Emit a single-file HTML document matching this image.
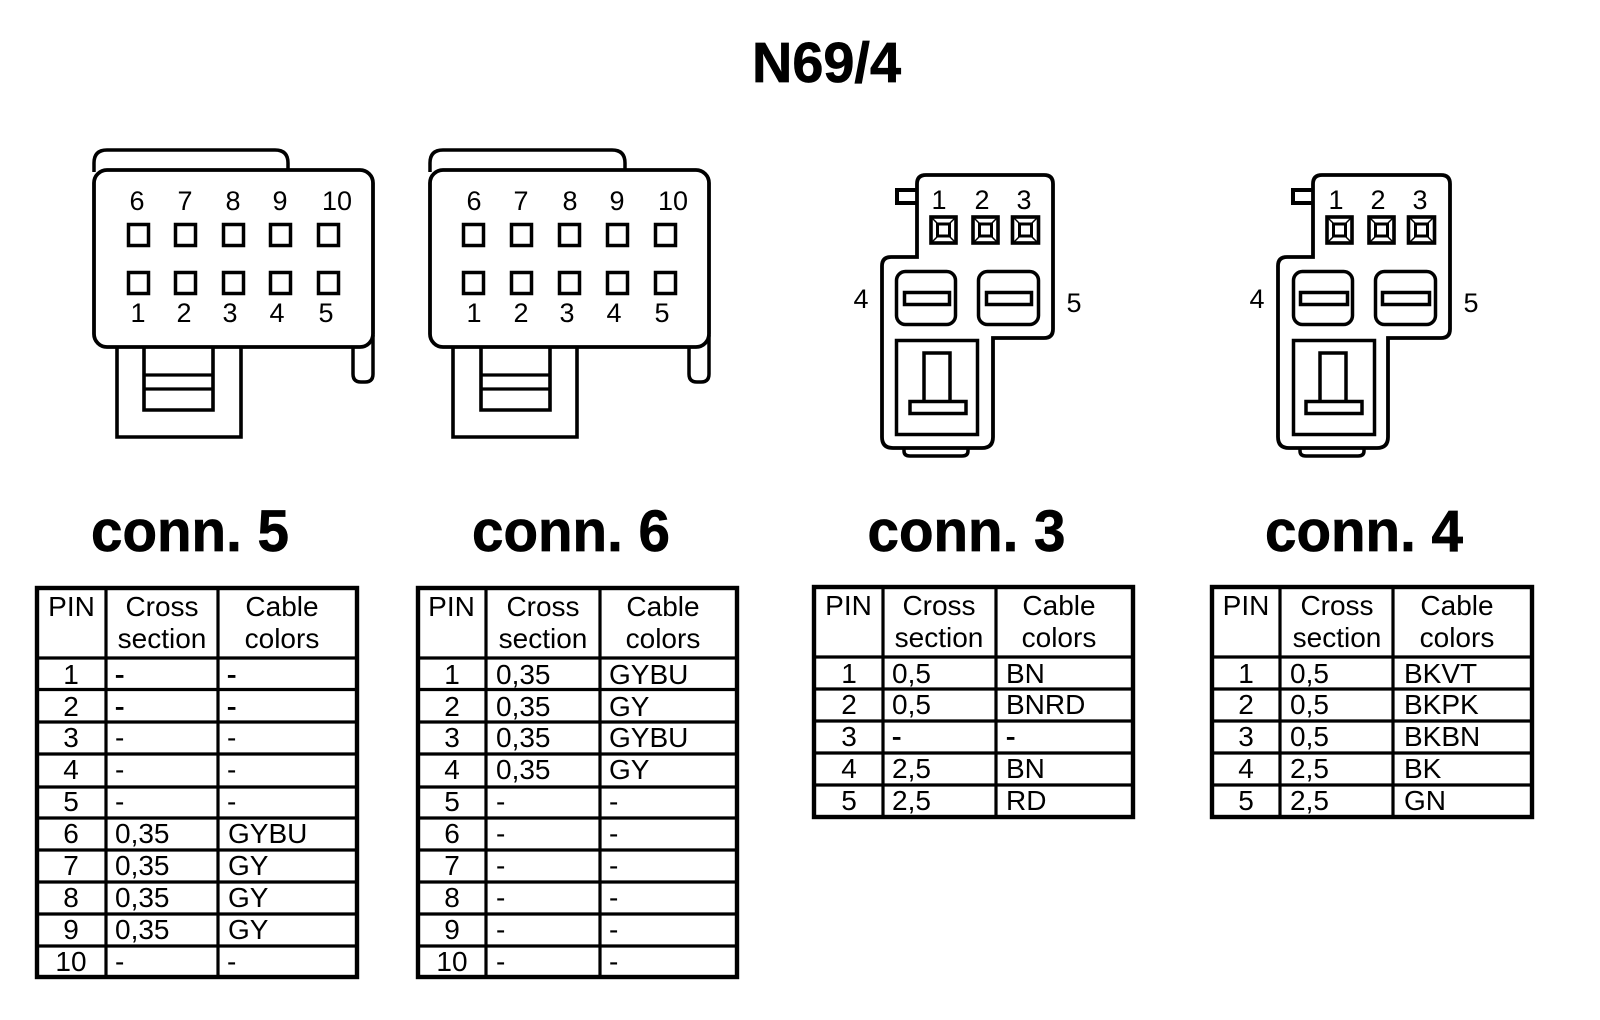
<!DOCTYPE html>
<html lang="en">
<head>
<meta charset="utf-8">
<title>N69/4</title>
<style>
html,body{margin:0;padding:0;background:#fff;width:1600px;height:1020px;overflow:hidden}
svg{display:block}
text{font-family:"Liberation Sans",Arial,sans-serif;fill:#000}
.t{font-size:28px}
.m{text-anchor:middle}
.n{font-size:27px;text-anchor:middle}
.d{stroke:#000;stroke-width:.7px}
.h{font-weight:bold;stroke:#000;stroke-width:.7px}
.s{fill:none;stroke:#000;stroke-width:3.5}
.w{fill:#fff;stroke:#000;stroke-width:3.5}
.l{stroke:#000;stroke-width:3.2;fill:none}
.o{fill:none;stroke:#000;stroke-width:4.4}
.f{stroke:#000;stroke-width:1.5}
</style>
</head>
<body>
<svg xmlns="http://www.w3.org/2000/svg" width="1600" height="1020" viewBox="0 0 1600 1020">
<rect width="1600" height="1020" fill="#fff"/>

<text class="h" x="752" y="82" font-size="57" textLength="149" lengthAdjust="spacingAndGlyphs">N69/4</text>
<text class="h" x="91" y="551" font-size="58" textLength="198" lengthAdjust="spacingAndGlyphs">conn. 5</text>
<text class="h" x="472" y="551" font-size="58" textLength="198" lengthAdjust="spacingAndGlyphs">conn. 6</text>
<text class="h" x="867.500" y="551" font-size="58" textLength="198" lengthAdjust="spacingAndGlyphs">conn. 3</text>
<text class="h" x="1265" y="551" font-size="58" textLength="198" lengthAdjust="spacingAndGlyphs">conn. 4</text>

<!-- Connector 5 -->
<path class="s" d="M94 172V163Q94 150 107 150H275Q288 150 288 163V170"/>
<path class="s" d="M353 347V374Q353 382 361 382H365Q373 382 373 374V335"/>
<path class="o" style="stroke-width:3.6" d="M117 347V437H241V347"/>
<path class="o" style="stroke-width:3.6" d="M144 347V410H213V347"/>
<path class="l" d="M144 375H213M144 389H213"/>
<rect class="w" style="stroke-width:3.8" x="94" y="170" width="279" height="177" rx="13"/>
<g class="s">
<rect x="128.500" y="224.500" width="20" height="21"/><rect x="175.500" y="224.500" width="20" height="21"/><rect x="223.500" y="224.500" width="20" height="21"/><rect x="270.500" y="224.500" width="20" height="21"/><rect x="318.500" y="224.500" width="20" height="21"/>
<rect x="128.500" y="272.500" width="20" height="21"/><rect x="175.500" y="272.500" width="20" height="21"/><rect x="223.500" y="272.500" width="20" height="21"/><rect x="270.500" y="272.500" width="20" height="21"/><rect x="318.500" y="272.500" width="20" height="21"/>
</g>
<text class="n" x="137" y="210">6</text><text class="n" x="185" y="210">7</text><text class="n" x="233" y="210">8</text><text class="n" x="280" y="210">9</text><text class="n" x="337" y="210">10</text>
<text class="n" x="138" y="322">1</text><text class="n" x="184" y="322">2</text><text class="n" x="230" y="322">3</text><text class="n" x="277" y="322">4</text><text class="n" x="326" y="322">5</text>

<!-- Connector 6 -->
<path class="s" d="M430 172V163Q430 150 443 150H612Q625 150 625 163V170"/>
<path class="s" d="M689 347V374Q689 382 697 382H701Q709 382 709 374V335"/>
<path class="o" style="stroke-width:3.6" d="M453 347V437H577V347"/>
<path class="o" style="stroke-width:3.6" d="M481 347V410H550V347"/>
<path class="l" d="M481 375H550M481 389H550"/>
<rect class="w" style="stroke-width:3.8" x="430" y="170" width="279" height="177" rx="13"/>
<g class="s">
<rect x="463.500" y="224.500" width="20" height="21"/><rect x="511.500" y="224.500" width="20" height="21"/><rect x="559.500" y="224.500" width="20" height="21"/><rect x="607.500" y="224.500" width="20" height="21"/><rect x="655.500" y="224.500" width="20" height="21"/>
<rect x="463.500" y="272.500" width="20" height="21"/><rect x="511.500" y="272.500" width="20" height="21"/><rect x="559.500" y="272.500" width="20" height="21"/><rect x="607.500" y="272.500" width="20" height="21"/><rect x="655.500" y="272.500" width="20" height="21"/>
</g>
<text class="n" x="474" y="210">6</text><text class="n" x="521" y="210">7</text><text class="n" x="570" y="210">8</text><text class="n" x="617" y="210">9</text><text class="n" x="673" y="210">10</text>
<text class="n" x="474" y="322">1</text><text class="n" x="521" y="322">2</text><text class="n" x="567" y="322">3</text><text class="n" x="614" y="322">4</text><text class="n" x="662" y="322">5</text>

<!-- Connector 3 -->
<path class="s" d="M904 449V451Q904 456 910 456H962Q968 456 968 451V449"/>
<path class="s" style="stroke-width:4" d="M917 190H897V203H917"/>
<path class="w" style="stroke-width:3.8" d="M917 257V184Q917 175 926 175H1044Q1053 175 1053 184V329Q1053 338 1044 338H993V437Q993 448 982 448H893Q882 448 882 437V266Q882 257 891 257H917Z"/>
<text class="n" x="939" y="209">1</text><text class="n" x="982" y="209">2</text><text class="n" x="1024" y="209">3</text>
<text class="n" x="861" y="308">4</text><text class="n" x="1074" y="312">5</text>
<g class="s">
<g style="stroke-width:3.6"><rect x="931" y="217" width="25" height="26"/><rect x="973" y="217" width="25" height="26"/><rect x="1012.500" y="217" width="26" height="26"/></g>
<g style="stroke-width:3"><rect x="937.500" y="224" width="12" height="12"/><rect x="979.500" y="224" width="12" height="12"/><rect x="1019.500" y="224" width="12" height="12"/></g>
</g>
<path class="f" d="M931 217L938 224M956 217L949 224M931 243L938 236M956 243L949 236M973 217L980 224M998 217L991 224M973 243L980 236M998 243L991 236M1013 217L1020 224M1038 217L1031 224M1013 243L1020 236M1038 243L1031 236"/>
<rect class="s" x="896.500" y="271.500" width="59" height="53" rx="9"/>
<rect class="s" x="978.500" y="271.500" width="60" height="53" rx="9"/>
<rect class="s" x="904.500" y="292.500" width="45" height="12"/>
<rect class="s" x="986.500" y="292.500" width="45" height="12"/>
<rect class="s" x="896.500" y="340.500" width="81" height="94"/>
<path class="s" d="M924 401V353H950V401"/>
<rect class="s" x="910" y="401.500" width="56" height="12"/>

<!-- Connector 4 -->
<path class="s" d="M1300 449V451Q1300 456 1306 456H1358Q1364 456 1364 451V449"/>
<path class="s" style="stroke-width:4" d="M1313 190H1293V203H1313"/>
<path class="w" style="stroke-width:3.8" d="M1313 257V184Q1313 175 1322 175H1441Q1450 175 1450 184V329Q1450 338 1441 338H1388V437Q1388 448 1377 448H1289Q1278 448 1278 437V266Q1278 257 1287 257H1313Z"/>
<text class="n" x="1336" y="209">1</text><text class="n" x="1378" y="209">2</text><text class="n" x="1420" y="209">3</text>
<text class="n" x="1257" y="308">4</text><text class="n" x="1471" y="312">5</text>
<g class="s">
<g style="stroke-width:3.6"><rect x="1327" y="217" width="25" height="26"/><rect x="1369" y="217" width="25" height="26"/><rect x="1408.500" y="217" width="26" height="26"/></g>
<g style="stroke-width:3"><rect x="1333.500" y="224" width="12" height="12"/><rect x="1375.500" y="224" width="12" height="12"/><rect x="1415.500" y="224" width="12" height="12"/></g>
</g>
<path class="f" d="M1327 217L1334 224M1352 217L1345 224M1327 243L1334 236M1352 243L1345 236M1369 217L1376 224M1394 217L1387 224M1369 243L1376 236M1394 243L1387 236M1409 217L1416 224M1434 217L1427 224M1409 243L1416 236M1434 243L1427 236"/>
<rect class="s" x="1293.500" y="271.500" width="59" height="53" rx="9"/>
<rect class="s" x="1375.500" y="271.500" width="60" height="53" rx="9"/>
<rect class="s" x="1300.500" y="292.500" width="47" height="12"/>
<rect class="s" x="1382.500" y="292.500" width="47" height="12"/>
<rect class="s" x="1293.500" y="340.500" width="81" height="94"/>
<path class="s" d="M1320 401V353H1346V401"/>
<rect class="s" x="1306" y="401.500" width="56" height="12"/>

<!-- Table conn. 5 -->
<rect class="o" x="37" y="588" width="320" height="389"/>
<path class="l" d="M106 588V977M218 588V977M37 658H357M37 689.500H357M37 722H357M37 754H357M37 787H357M37 818H357M37 850H357M37 882H357M37 914H357M37 946H357"/>
<text class="t m" x="71.500" y="616">PIN</text><text class="t m" x="162" y="616">Cross</text><text class="t m" x="162" y="648">section</text><text class="t m" x="282" y="616">Cable</text><text class="t m" x="282" y="648">colors</text>
<text class="t m" x="71" y="684">1</text><text class="t d" x="115" y="684">-</text><text class="t d" x="227" y="684">-</text>
<text class="t m" x="71" y="716">2</text><text class="t d" x="115" y="716">-</text><text class="t d" x="227" y="716">-</text>
<text class="t m" x="71" y="747">3</text><text class="t" x="115" y="747">-</text><text class="t" x="227" y="747">-</text>
<text class="t m" x="71" y="779">4</text><text class="t" x="115" y="779">-</text><text class="t" x="227" y="779">-</text>
<text class="t m" x="71" y="811">5</text><text class="t" x="115" y="811">-</text><text class="t" x="227" y="811">-</text>
<text class="t m" x="71" y="843">6</text><text class="t" x="115" y="843">0,35</text><text class="t" x="228" y="843">GYBU</text>
<text class="t m" x="71" y="875">7</text><text class="t" x="115" y="875">0,35</text><text class="t" x="228" y="875">GY</text>
<text class="t m" x="71" y="907">8</text><text class="t" x="115" y="907">0,35</text><text class="t" x="228" y="907">GY</text>
<text class="t m" x="71" y="939">9</text><text class="t" x="115" y="939">0,35</text><text class="t" x="228" y="939">GY</text>
<text class="t m" x="71" y="971">10</text><text class="t" x="115" y="971">-</text><text class="t" x="227" y="971">-</text>

<!-- Table conn. 6 -->
<rect class="o" x="418" y="588" width="319" height="389"/>
<path class="l" d="M486 588V977M600 588V977M418 658H737M418 689.500H737M418 722H737M418 754H737M418 787H737M418 818H737M418 850H737M418 882H737M418 914H737M418 946H737"/>
<text class="t m" x="451.500" y="616">PIN</text><text class="t m" x="543" y="616">Cross</text><text class="t m" x="543" y="648">section</text><text class="t m" x="663" y="616">Cable</text><text class="t m" x="663" y="648">colors</text>
<text class="t m" x="452" y="684">1</text><text class="t" x="496" y="684">0,35</text><text class="t" x="609" y="684">GYBU</text>
<text class="t m" x="452" y="716">2</text><text class="t" x="496" y="716">0,35</text><text class="t" x="609" y="716">GY</text>
<text class="t m" x="452" y="747">3</text><text class="t" x="496" y="747">0,35</text><text class="t" x="609" y="747">GYBU</text>
<text class="t m" x="452" y="779">4</text><text class="t" x="496" y="779">0,35</text><text class="t" x="609" y="779">GY</text>
<text class="t m" x="452" y="811">5</text><text class="t" x="496" y="811">-</text><text class="t" x="609" y="811">-</text>
<text class="t m" x="452" y="843">6</text><text class="t" x="496" y="843">-</text><text class="t" x="609" y="843">-</text>
<text class="t m" x="452" y="875">7</text><text class="t" x="496" y="875">-</text><text class="t" x="609" y="875">-</text>
<text class="t m" x="452" y="907">8</text><text class="t" x="496" y="907">-</text><text class="t" x="609" y="907">-</text>
<text class="t m" x="452" y="939">9</text><text class="t" x="496" y="939">-</text><text class="t" x="609" y="939">-</text>
<text class="t m" x="452" y="971">10</text><text class="t" x="496" y="971">-</text><text class="t" x="609" y="971">-</text>

<!-- Table conn. 3 -->
<rect class="o" x="814" y="587" width="319" height="230"/>
<path class="l" d="M883 587V817M996 587V817M814 657H1133M814 689H1133M814 721H1133M814 753H1133M814 785H1133"/>
<text class="t m" x="848.500" y="615">PIN</text><text class="t m" x="939" y="615">Cross</text><text class="t m" x="939" y="647">section</text><text class="t m" x="1059" y="615">Cable</text><text class="t m" x="1059" y="647">colors</text>
<text class="t m" x="849" y="683">1</text><text class="t" x="892" y="683">0,5</text><text class="t" x="1006" y="683">BN</text>
<text class="t m" x="849" y="714">2</text><text class="t" x="892" y="714">0,5</text><text class="t" x="1006" y="714">BNRD</text>
<text class="t m" x="849" y="746">3</text><text class="t d" x="892" y="746">-</text><text class="t d" x="1006" y="746">-</text>
<text class="t m" x="849" y="778">4</text><text class="t" x="892" y="778">2,5</text><text class="t" x="1006" y="778">BN</text>
<text class="t m" x="849" y="810">5</text><text class="t" x="892" y="810">2,5</text><text class="t" x="1006" y="810">RD</text>

<!-- Table conn. 4 -->
<rect class="o" x="1212" y="587" width="320" height="230"/>
<path class="l" d="M1280 587V817M1393 587V817M1212 657H1532M1212 689H1532M1212 721H1532M1212 753H1532M1212 785H1532"/>
<text class="t m" x="1246" y="615">PIN</text><text class="t m" x="1337" y="615">Cross</text><text class="t m" x="1337" y="647">section</text><text class="t m" x="1457" y="615">Cable</text><text class="t m" x="1457" y="647">colors</text>
<text class="t m" x="1246" y="683">1</text><text class="t" x="1290" y="683">0,5</text><text class="t" x="1404" y="683">BKVT</text>
<text class="t m" x="1246" y="714">2</text><text class="t" x="1290" y="714">0,5</text><text class="t" x="1404" y="714">BKPK</text>
<text class="t m" x="1246" y="746">3</text><text class="t" x="1290" y="746">0,5</text><text class="t" x="1404" y="746">BKBN</text>
<text class="t m" x="1246" y="778">4</text><text class="t" x="1290" y="778">2,5</text><text class="t" x="1404" y="778">BK</text>
<text class="t m" x="1246" y="810">5</text><text class="t" x="1290" y="810">2,5</text><text class="t" x="1404" y="810">GN</text>
</svg>
</body>
</html>
